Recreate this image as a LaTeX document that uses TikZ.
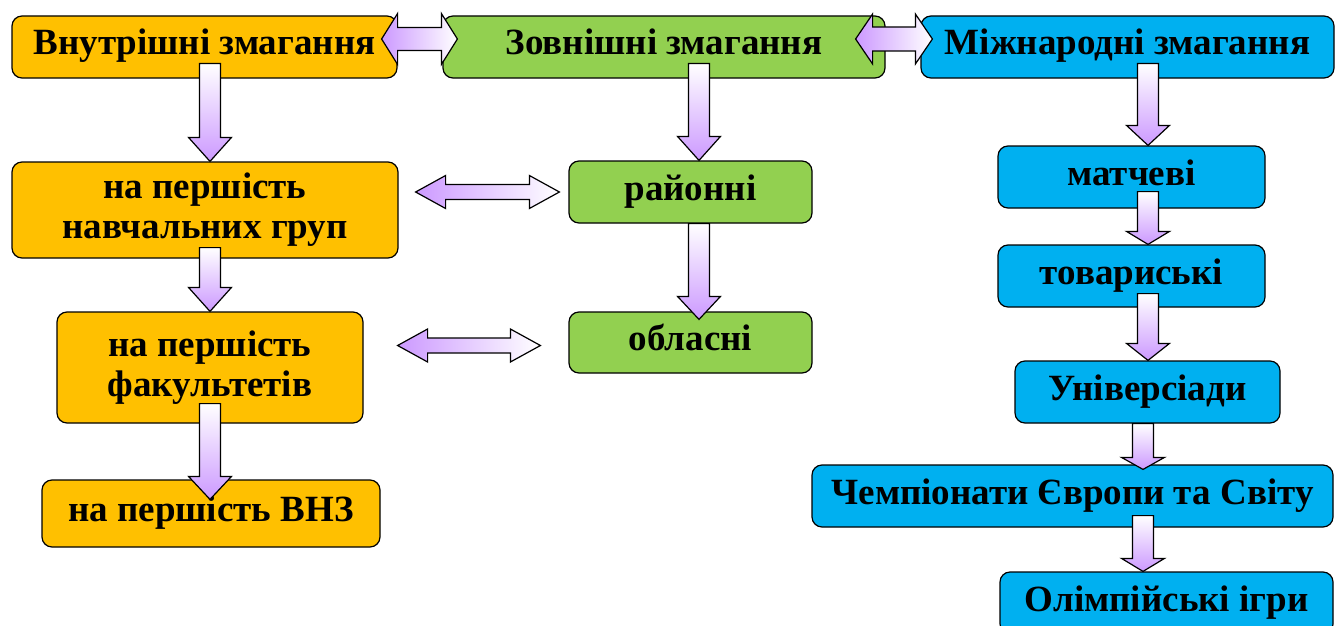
\documentclass[tikz,border=0pt]{standalone}
\usepackage{fontspec}
\setmainfont{Liberation Serif}
\usetikzlibrary{calc}

\definecolor{homefill}{HTML}{FFC000}
\definecolor{outfill}{HTML}{92D050}
\definecolor{worldfill}{HTML}{00B0F0}
\definecolor{lilac}{HTML}{CC99FF}

\tikzset{
	stagebox/.style={draw=black, line width=1.2pt, rounded corners=10pt, inner sep=0pt,
		align=center, font=\fontsize{37}{40}\selectfont\bfseries},
	oneline/.style={text height=26pt, text depth=10pt},
	homebox/.style={stagebox, fill=homefill},
	outbox/.style={stagebox, fill=outfill},
	worldbox/.style={stagebox, fill=worldfill},
	flow/.style={draw=black, line width=1.2pt, line join=miter}
}

% block arrow downwards: from, to, column, start inside, tip inside, head length
\newcommand{\vflow}[6]{%
	\draw[flow, top color=white, bottom color=lilac]
		let \p1=(#1.south -| #3), \p2=(#2.north -| #3) in
		(\x1-10.5pt,\y1+#4pt) -- (\x1+10.5pt,\y1+#4pt)
		-- (\x1+10.5pt,\y2-#5pt+#6pt) -- (\x1+21.5pt,\y2-#5pt+#6pt)
		-- (\x1,\y2-#5pt)
		-- (\x1-21.5pt,\y2-#5pt+#6pt) -- (\x1-10.5pt,\y2-#5pt+#6pt) -- cycle;}

% block arrow both ways: left tip, right tip, shaft half, head half, head length
\newcommand{\hflow}[5]{%
	\draw[flow, left color=lilac, right color=white]
		let \p1=(#1), \p2=(#2) in
		(\x1,\y1) -- (\x1+#5pt,\y1+#4pt) -- (\x1+#5pt,\y1+#3pt)
		-- (\x2-#5pt,\y1+#3pt) -- (\x2-#5pt,\y1+#4pt) -- (\x2,\y1)
		-- (\x2-#5pt,\y1-#4pt) -- (\x2-#5pt,\y1-#3pt)
		-- (\x1+#5pt,\y1-#3pt) -- (\x1+#5pt,\y1-#4pt) -- cycle;}

\begin{document}
\begin{tikzpicture}[x=1pt,y=-1pt]
\useasboundingbox (0,0) rectangle (1335,626);
\clip (0,0) rectangle (1335,626);

% columns of the arrows
\coordinate (colL) at (210,0);
\coordinate (colM) at (699,0);
\coordinate (colR) at (1148,0);
\coordinate (colRR) at (1143,0);

% top row
\node[homebox, oneline, minimum width=385, minimum height=62] (vnutr) at (204.5,47) {Внутрішні змагання};
\node[outbox, oneline, minimum width=442, minimum height=62] (zovn) at (664,47) {Зовнішні змагання};
\node[worldbox, oneline, minimum width=413, minimum height=62] (mizh) at (1127.5,47) {Міжнародні змагання};

% inner
\node[homebox, minimum width=386, minimum height=96] (grupy) at (205,210) {на першість\\навчальних груп};
\node[homebox, minimum width=306, minimum height=111] (fakult) at (210,367.5) {на першість\\факультетів};
\node[homebox, oneline, minimum width=338, minimum height=67] (vnz) at (211,513.5) {на першість ВНЗ};

% outer
\node[outbox, oneline, minimum width=243, minimum height=62] (rajon) at (690.5,192) {районні};
\node[outbox, oneline, minimum width=243, minimum height=61] (oblast) at (690.5,342.5) {обласні};

% international
\node[worldbox, oneline, minimum width=267, minimum height=62] (match) at (1131.5,177) {матчеві};
\node[worldbox, oneline, minimum width=267, minimum height=62] (tovar) at (1131.5,276) {товариські};
\node[worldbox, oneline, minimum width=265, minimum height=62] (univer) at (1147.5,392) {Універсіади};
\node[worldbox, oneline, minimum width=521, minimum height=62] (champ) at (1072.5,496) {Чемпіонати Європи та Світу};
\node[worldbox, oneline, minimum width=333, minimum height=62] (olymp) at (1166.5,603) {Олімпійські ігри};

\vflow{vnutr}{grupy}{colL}{15}{0}{24}
\vflow{grupy}{fakult}{colL}{11}{0}{24}
\vflow{fakult}{vnz}{colL}{20}{20}{23}
\vflow{zovn}{rajon}{colM}{15}{0}{24}
\vflow{rajon}{oblast}{colM}{0}{8}{23}
\vflow{mizh}{match}{colR}{15}{0}{20}
\vflow{match}{tovar}{colR}{17}{0}{13}
\vflow{tovar}{univer}{colR}{14}{0}{17}
\vflow{univer}{champ}{colRR}{0}{5}{12}
\vflow{champ}{olymp}{colRR}{12}{0}{13}

\hflow{$(vnutr.east)+(-16,-8)$}{$(zovn.west)+(15,-8)$}{11.5}{25.5}{16}
\hflow{$(zovn.east)+(-30,-8)$}{$(mizh.west)+(12,-8)$}{12}{25}{17}
\hflow{$(grupy.east)+(17,-18)$}{$(rajon.west)+(-9,0)$}{7.5}{16.5}{30}
\hflow{$(fakult.east)+(34,-22)$}{$(oblast.west)+(-28,0)$}{7.5}{16.5}{30}

\end{tikzpicture}
\end{document}
